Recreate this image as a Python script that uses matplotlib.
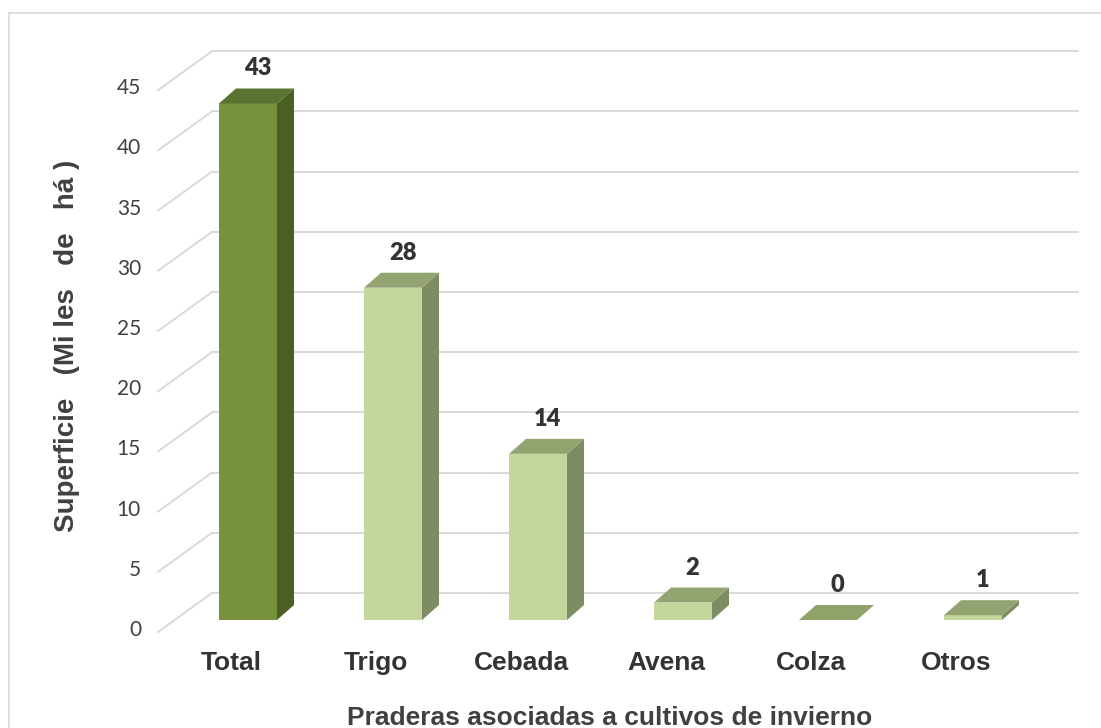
import matplotlib.pyplot as plt
from matplotlib.patches import Polygon, Rectangle

# datos
categorias = ["Total", "Trigo", "Cebada", "Avena", "Colza", "Otros"]
superficie = [42.9, 27.6, 13.8, 1.45, 0.0, 0.4]
etiquetas = ["43", "28", "14", "2", "0", "1"]
yticks = [0, 5, 10, 15, 20, 25, 30, 35, 40, 45]

col_frente = ["#77923C", "#C3D69B", "#C3D69B", "#C3D69B", "#C3D69B", "#C3D69B"]
col_lado = ["#4B5F23", "#7F8B60", "#7F8B60", "#7F8B60", "#7F8B60", "#7F8B60"]
col_tope = ["#5B7330", "#93A471", "#93A471", "#93A471", "#8FA26A", "#93A471"]

# escala en pixeles: barra i centrada en 248+145*i, valor 0 en y=620, 12.04 px por unidad
PXX = 145.0
PXY = 12.04
X0 = 248.0
Y0 = 620.0

fig = plt.figure(figsize=(11.01, 7.28), dpi=100)
ax = fig.add_axes([0, 0, 1, 1])
ax.set_xlim((0 - X0) / PXX, (1101 - X0) / PXX)
ax.set_ylim((Y0 - 728) / PXY, Y0 / PXY)
ax.axis("off")

# profundidades (en unidades de datos)
ddx, ddy = 17 / PXX, 15 / PXY          # grosor de la barra
fdx, fdy = -17 / PXX, -12 / PXY        # plano frontal (etiquetas)
bdy = 27 / PXY                         # pared del fondo
pared_izq = (212 - X0) / PXX
pared_der = (1078 - X0) / PXX
diag_dx, diag_dy = 54 / PXX, 39 / PXY

# lineas de la cuadricula
for v in yticks:
    yb = v + bdy
    ax.plot([pared_izq, pared_der], [yb, yb], color="#D9D9D9", lw=1.4, zorder=1)
    ax.plot([pared_izq - diag_dx, pared_izq], [yb - diag_dy, yb], color="#D9D9D9", lw=1.4, zorder=1)
    ax.text(pared_izq - diag_dx - 17 / PXX, yb - diag_dy + 2 / PXY, str(v), ha="right", va="center",
            fontsize=15, color="#404040", family="Lato")

# barras 3D
w = 0.4
xs = list(range(len(categorias)))
ax.bar(xs, superficie, width=w, color=col_frente, zorder=3)
for i, v in enumerate(superficie):
    x = xs[i]
    lado = Polygon([(x + w / 2, 0), (x + w / 2 + ddx, ddy), (x + w / 2 + ddx, v + ddy), (x + w / 2, v)],
                   closed=True, facecolor=col_lado[i], edgecolor="none", zorder=3)
    tope = Polygon([(x - w / 2, v), (x + w / 2, v), (x + w / 2 + ddx, v + ddy), (x - w / 2 + ddx, v + ddy)],
                   closed=True, facecolor=col_tope[i], edgecolor="none", zorder=3)
    ax.add_patch(lado)
    ax.add_patch(tope)
    ax.text(x + ddx / 2 + 1 / PXX, v + ddy + 20 / PXY, etiquetas[i], ha="center", va="center",
            fontsize=17, fontweight="heavy", color="#333333", family="Lato")
    ax.text(x + fdx, fdy - 31 / PXY, categorias[i], ha="center", va="center",
            fontsize=19, fontweight="bold", color="#333333", family="Liberation Sans")

# titulos de ejes
ax.text((610 - X0) / PXX, (Y0 - 718) / PXY, "Praderas asociadas a cultivos de invierno",
        ha="center", va="center", fontsize=19, fontweight="bold", color="#404040", family="Liberation Sans")
ax.text((67 - X0) / PXX, (Y0 - 346) / PXY, "Superficie   (Mi les   de   há )", rotation=90,
        ha="center", va="center", fontsize=20, fontweight="bold", color="#404040", family="Liberation Sans")

# marco del grafico
fig.patches.append(Rectangle((9 / 1101, -0.05), 1.1, 1 - 13 / 728 + 0.05, transform=fig.transFigure,
                             fill=False, edgecolor="#D9D9D9", lw=1.2))

fig.savefig("out.png", dpi=100)
